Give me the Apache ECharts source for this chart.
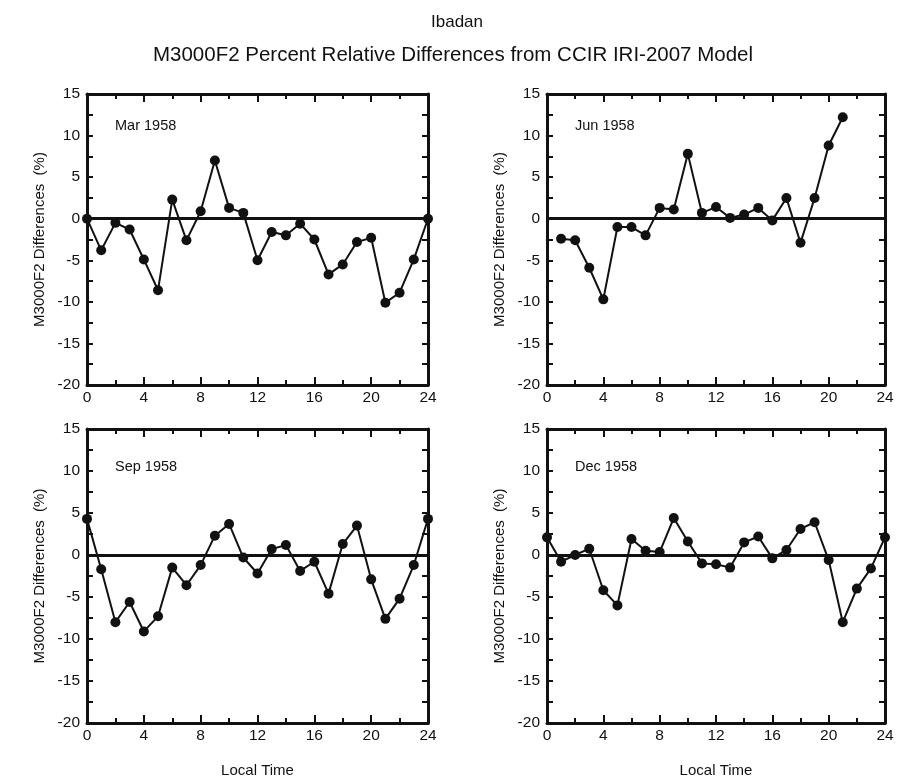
<!DOCTYPE html>
<html>
<head>
<meta charset="utf-8">
<script src="https://cdn.jsdelivr.net/npm/echarts@6/dist/echarts.min.js"></script>
<style>html,body{margin:0;padding:0;background:#fff}#c{width:897px;height:781px}</style>
</head>
<body>
<div id="c"></div>
<script>
// ---- data ----
const hours = [0,1,2,3,4,5,6,7,8,9,10,11,12,13,14,15,16,17,18,19,20,21,22,23,24];
const junHours = [1,2,3,4,5,6,7,8,9,10,11,12,13,14,15,16,17,18,19,20,21];
const marValues = [0,-3.8,-0.5,-1.3,-4.9,-8.6,2.3,-2.6,0.9,7.0,1.3,0.7,-5.0,-1.6,-2.0,-0.6,-2.5,-6.7,-5.5,-2.8,-2.3,-10.1,-8.9,-4.9,0];
const junValues = [-2.4,-2.6,-5.9,-9.7,-1.0,-1.0,-2.0,1.3,1.1,7.8,0.7,1.4,0.1,0.5,1.3,-0.2,2.5,-2.9,2.5,8.8,12.2];
const sepValues = [4.3,-1.7,-8.0,-5.6,-9.1,-7.3,-1.5,-3.6,-1.2,2.3,3.7,-0.3,-2.2,0.7,1.2,-1.9,-0.8,-4.6,1.3,3.5,-2.9,-7.6,-5.2,-1.2,4.3];
const decValues = [2.1,-0.8,0.0,0.75,-4.2,-6.0,1.9,0.5,0.35,4.4,1.6,-1.0,-1.1,-1.5,1.5,2.2,-0.4,0.6,3.1,3.9,-0.6,-8.0,-4.0,-1.6,2.1];
const panelLabels = ['Mar 1958','Jun 1958','Sep 1958','Dec 1958'];
const xTicks = {min:0, max:24, interval:4};
const yTicks = {min:-20, max:15, interval:5};
const titleText = 'Ibadan';
const subtitleText = 'M3000F2 Percent Relative Differences from CCIR IRI-2007 Model';
const yName = 'M3000F2 Differences  (%)';
const xName = 'Local Time';

const FONT = '"Liberation Sans", Arial, Helvetica, sans-serif';
const panels = [
  {x: hours, y: marValues},
  {x: junHours, y: junValues},
  {x: hours, y: sepValues},
  {x: hours, y: decValues}
];
const grids = [
  {left: 87, top: 94, width: 341, height: 291},
  {left: 547, top: 94, width: 338, height: 291},
  {left: 87, top: 429, width: 341, height: 294},
  {left: 547, top: 429, width: 338, height: 294}
];

const lineW = 3;
const xAxes = [], yAxes = [], series = [], titles = [];
titles.push({text: titleText, left: 452, top: 9, textAlign: 'center',
  textStyle: {fontFamily: FONT, fontSize: 17, fontWeight: 'normal', color: '#111'}});
titles.push({text: subtitleText, left: 448, top: 40, textAlign: 'center',
  textStyle: {fontFamily: FONT, fontSize: 20.5, fontWeight: 'normal', color: '#111'}});

panels.forEach((p, i) => {
  const g = grids[i];
  const bottomRow = i >= 2;
  xAxes.push({
    type: 'value', gridIndex: i, position: 'bottom', min: xTicks.min, max: xTicks.max, interval: xTicks.interval,
    name: bottomRow ? xName : '', nameLocation: 'middle', nameGap: 40,
    nameTextStyle: {fontFamily: FONT, fontSize: 15, color: '#111'},
    axisLine: {show: true, onZero: false, lineStyle: {color: '#111', width: lineW}},
    axisTick: {show: true, inside: true, length: 8, lineStyle: {color: '#111', width: 2}},
    minorTick: {show: true, splitNumber: 2, length: 5, lineStyle: {color: '#111', width: 2}},
    axisLabel: {fontFamily: FONT, fontSize: 15.5, color: '#111', margin: 5},
    splitLine: {show: false}
  });
  xAxes.push({
    type: 'value', gridIndex: i, position: 'top', min: xTicks.min, max: xTicks.max, interval: xTicks.interval,
    axisLine: {show: true, onZero: false, lineStyle: {color: '#111', width: lineW}},
    axisTick: {show: true, inside: true, length: 8, lineStyle: {color: '#111', width: 2}},
    minorTick: {show: true, splitNumber: 2, length: 5, lineStyle: {color: '#111', width: 2}},
    axisLabel: {show: false}, splitLine: {show: false}
  });
  yAxes.push({
    type: 'value', gridIndex: i, position: 'left', min: yTicks.min, max: yTicks.max, interval: yTicks.interval,
    name: yName, nameLocation: 'middle', nameGap: 40,
    nameTextStyle: {fontFamily: FONT, fontSize: 15, color: '#111'},
    axisLine: {show: true, onZero: false, lineStyle: {color: '#111', width: lineW}},
    axisTick: {show: true, inside: true, length: 6, lineStyle: {color: '#111', width: 2}},
    minorTick: {show: true, splitNumber: 2, length: 6, lineStyle: {color: '#111', width: 2}},
    axisLabel: {fontFamily: FONT, fontSize: 15.5, color: '#111', margin: 7},
    splitLine: {show: false}
  });
  yAxes.push({
    type: 'value', gridIndex: i, position: 'right', min: yTicks.min, max: yTicks.max, interval: yTicks.interval,
    axisLine: {show: true, onZero: false, lineStyle: {color: '#111', width: lineW}},
    axisTick: {show: true, inside: true, length: 6, lineStyle: {color: '#111', width: 2}},
    minorTick: {show: true, splitNumber: 2, length: 6, lineStyle: {color: '#111', width: 2}},
    axisLabel: {show: false}, splitLine: {show: false}
  });
  series.push({
    type: 'line', xAxisIndex: 2*i, yAxisIndex: 2*i,
    data: p.x.map((h, k) => [h, p.y[k]]),
    symbol: 'circle', symbolSize: 10,
    itemStyle: {color: '#111'},
    lineStyle: {color: '#111', width: 2},
    animation: false,
    markLine: {
      silent: true, symbol: 'none', label: {show: false},
      lineStyle: {color: '#111', width: 3, type: 'solid'},
      data: [{yAxis: 0}]
    },
    z: 3
  });
  titles.push({text: panelLabels[i], left: g.left + 23, top: g.top + (bottomRow ? 25 : 19),
    textStyle: {fontFamily: FONT, fontSize: 14.5, fontWeight: 'normal', color: '#111'}});
});

const chart = echarts.init(document.getElementById('c'), null, {renderer: 'canvas'});
chart.setOption({
  backgroundColor: '#fff',
  animation: false,
  title: titles,
  grid: grids,
  xAxis: xAxes,
  yAxis: yAxes,
  series: series
});
</script>
</body>
</html>
